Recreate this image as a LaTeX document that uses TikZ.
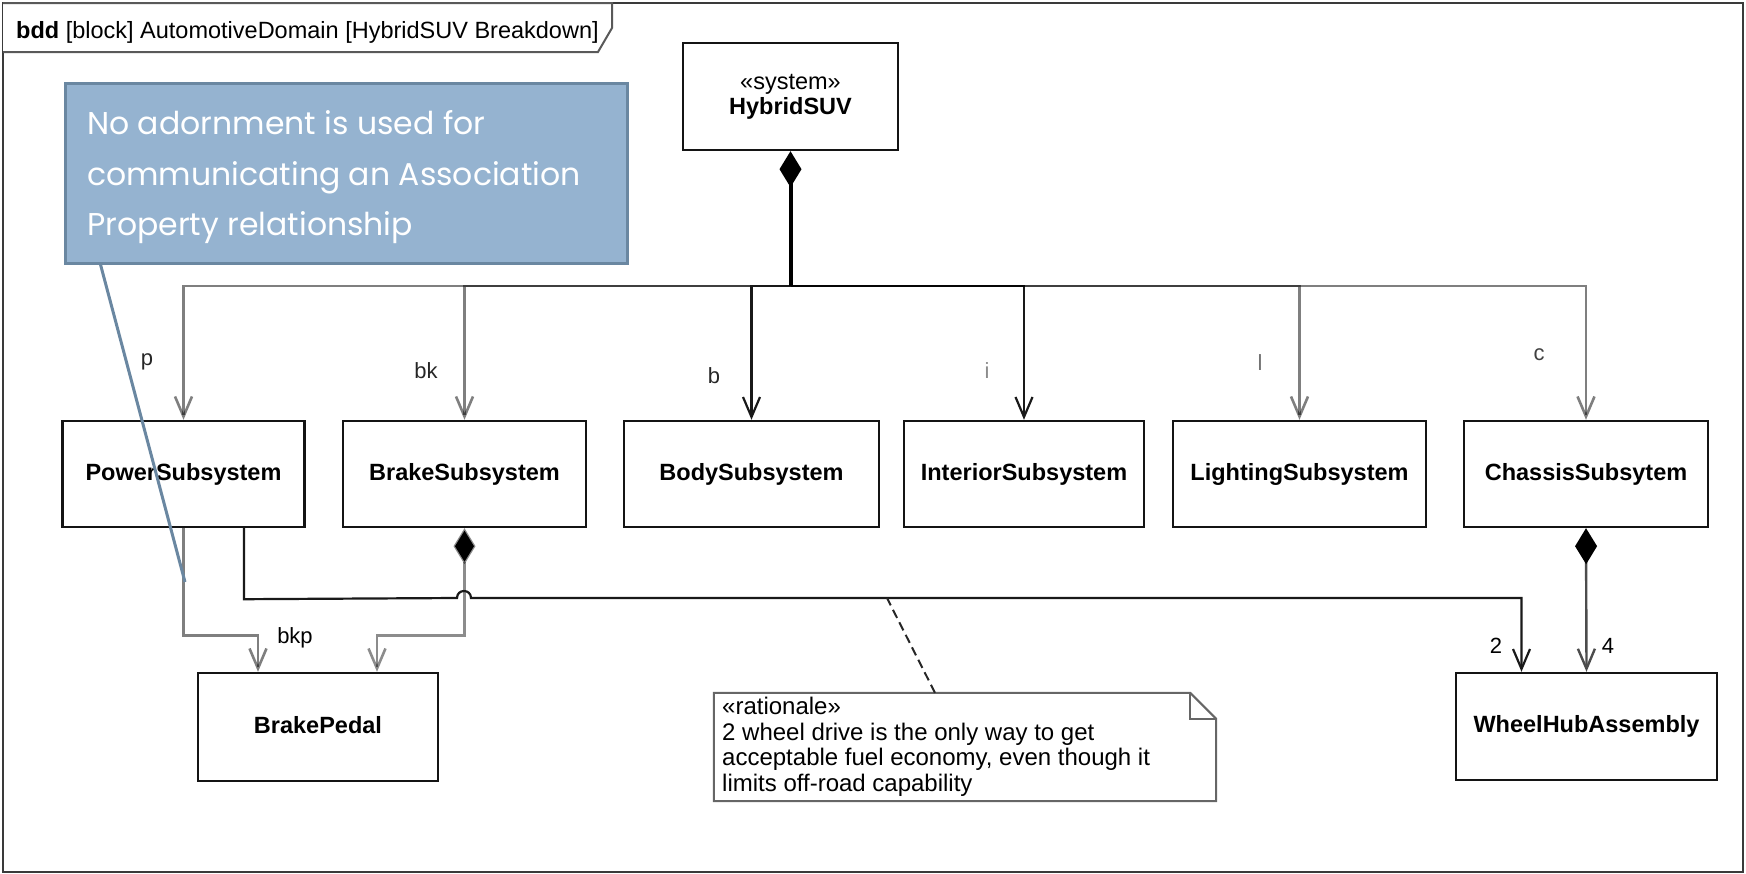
\documentclass[tikz,border=0pt]{standalone}
\usepackage{fontspec}
\setmainfont{Liberation Sans}
\newfontfamily\callfont{Poppins}
\usetikzlibrary{arrows.meta}
\definecolor{callfill}{HTML}{95B3D0}
\definecolor{calledge}{HTML}{6A87A1}
\definecolor{framegray}{HTML}{3A3A3A}
\begin{document}
\begin{tikzpicture}[x=1pt,y=-1pt,
  blockfont/.style={font=\fontsize{23.5}{25}\selectfont\bfseries},
  block/.style={draw=black!92, line width=2.4pt, fill=white, inner sep=0pt,
    minimum height=106pt, text height=17pt, text depth=5pt, blockfont},
  role/.style={inner sep=0pt, font=\fontsize{22}{24}\selectfont},
  barb/.tip={Straight Barb[length=20pt,width=17pt]},
  comp/.tip={Diamond[length=36pt,width=22pt,color=black]},
  assocg/.style={draw=black, draw opacity=0.5, line width=2.6pt, -barb},
  assocb/.style={draw=black!90, line width=2.2pt, -barb},
  compg/.style={draw=black, draw opacity=0.45, line width=2.6pt, comp-barb},
  compd/.style={draw=black!70, line width=2.4pt, comp-barb},
  trunk/.style={draw=black, line width=4pt, comp-},
  callline/.style={draw=calledge, line width=3pt},
  calltext/.style={anchor=base west, inner sep=0pt, text=white,
    font=\callfont\fontsize{31.5}{50}\selectfont}
]
\useasboundingbox (0,0) rectangle (1746,873);

% diagram frame and name tab
\draw[draw=framegray, line width=2.6pt] (3,3) rectangle (1743,872);
\draw[draw=black!65, line width=2pt, fill=white] (3,3) -- (612,3) -- (612,28) -- (598,52) -- (3,52);
\node[anchor=base west, inner sep=0pt, font=\fontsize{23.5}{25}\selectfont] (title) at (16,38)
  {\textbf{bdd} [block] AutomotiveDomain [HybridSUV Breakdown]};

% blocks
\node[draw=black!92, line width=2.4pt, fill=white, minimum width=215pt, minimum height=107pt,
  inner sep=0pt, align=center, blockfont] (suv) at (790.5,96.5)
  {{\mdseries «system»}\\HybridSUV};
\node[block, minimum width=242pt] (pow)  at (183.5,474) {PowerSubsystem};
\node[block, minimum width=243pt] (brk)  at (464.5,474) {BrakeSubsystem};
\node[block, minimum width=255pt] (body) at (751.5,474) {BodySubsystem};
\node[block, minimum width=240pt] (intr) at (1024,474)  {InteriorSubsystem};
\node[block, minimum width=253pt] (lit)  at (1299.5,474) {LightingSubsystem};
\node[block, minimum width=244pt] (chs)  at (1586,474)  {ChassisSubsytem};
\node[block, minimum width=240pt, minimum height=108pt] (pedal) at (318,727) {BrakePedal};
\node[block, minimum width=261pt, minimum height=107pt] (hub) at (1586.5,726.5) {WheelHubAssembly};

% composition of the system into its subsystems
\coordinate (split) at (790.5,286);
\draw[assocg] (split) -| (pow.north);
\draw[assocg] (split) -| (brk.north);
\draw[assocb] (split) -| (body.north);
\draw[assocb] (split) -| (intr.north);
\draw[assocg] (split) -| (lit.north);
\draw[assocg] (split) -| (chs.north);
\draw[trunk] (suv.south) -- (split);

% lower associations
\draw[assocg] (pow.south) -- ++(0,107) -| ([xshift=-60pt]pedal.north);
\draw[compg] (brk.south) -- ++(0,107) -| ([xshift=59pt]pedal.north);
\coordinate (hopl) at (457,598);
\coordinate (hopr) at (471,598);
\draw[assocb] ([xshift=60.5pt]pow.south) -- ++(0,71) -- (hopl)
  .. controls (457,588.7) and (471,588.7) .. (hopr) -| ([xshift=-65pt]hub.north);
\draw[compd] (chs.south) -- (hub.north);

% role names and multiplicities
\node[role, text=black!85] (lp)   at (147,362) {p};
\node[role, text=black!85] (lbk)  at (426,371) {bk};
\node[role, text=black!85] (lb)   at (714,376) {b};
\node[role, text=black!45] (li)   at (987,371) {i};
\node[role, text=black!55] (ll)   at (1260,363) {l};
\node[role, text=black!75] (lc)   at (1539,355) {c};
\node[role, anchor=base] (lbkp) at (295,643) {bkp};
\node[role, anchor=base] (lm2)  at (1496,653) {2};
\node[role, anchor=base] (lm4)  at (1608,653) {4};

% rationale note
\node[minimum width=502pt, minimum height=108pt, inner sep=0pt] (note) at (965,747) {};
\draw[draw=black!60, line width=2pt, fill=white]
  (note.north west) -- ([xshift=-26pt]note.north east) -- ([yshift=-26pt]note.north east)
  -- (note.south east) -- (note.south west) -- cycle;
\draw[draw=black!60, line width=2pt]
  ([xshift=-26pt]note.north east) -- ([xshift=-26pt,yshift=-26pt]note.north east)
  -- ([yshift=-26pt]note.north east);
\node[anchor=north west, inner sep=0pt, align=left, font=\fontsize{24}{25.5}\selectfont] (notetext)
  at (722,697)
  {«rationale»\\2 wheel drive is the only way to get\\acceptable fuel economy, even though it\\limits off-road capability};
\coordinate (noteend) at (887,598);
\draw[draw=black!85, line width=2pt, dash pattern=on 9pt off 5pt] ([xshift=-30pt]note.north) -- (noteend);

% callout
\node[draw=calledge, fill=callfill, line width=3pt, minimum width=562pt, minimum height=180pt,
  inner sep=0pt] (callout) at (346,173) {};
\node[calltext] (ct1) at (87,134) {No adornment is used for};
\node[calltext] (ct2) at (87,185) {communicating an Association};
\node[calltext] (ct3) at (87,235) {Property relationship};
\coordinate (calltip) at (185,582);
\draw[callline] ([xshift=37pt]callout.south west) -- (calltip);
\end{tikzpicture}
\end{document}
